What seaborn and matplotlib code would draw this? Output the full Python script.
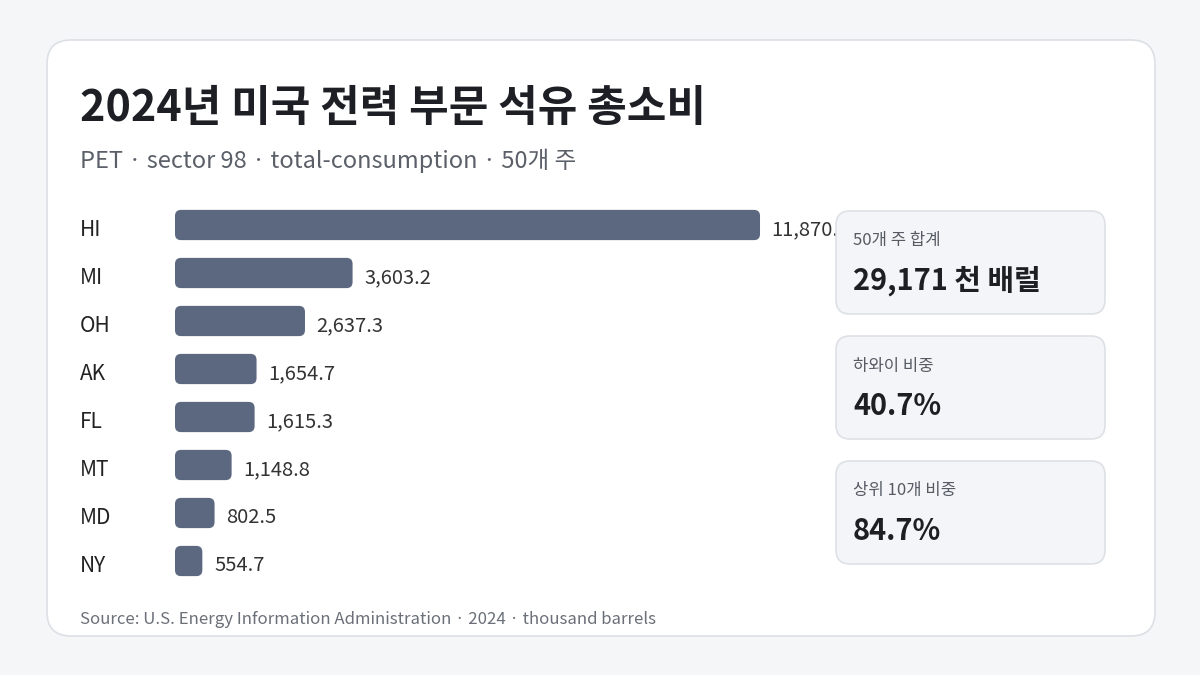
import matplotlib
matplotlib.use("Agg")
import matplotlib.pyplot as plt
import seaborn as sns
import pandas as pd
from matplotlib.patches import FancyBboxPatch

states = ["HI", "MI", "OH", "AK", "FL", "MT", "MD", "NY"]
values = [11870.4, 3603.2, 2637.3, 1654.7, 1615.3, 1148.8, 802.5, 554.7]
card_labels = ["50개 주 합계", "하와이 비중", "상위 10개 비중"]
card_values = ["29,171 천 배럴", "40.7%", "84.7%"]

sns.set_theme(style="white")
plt.rcParams["font.family"] = ["Noto Sans CJK KR", "DejaVu Sans"]

W, H = 1200, 675
fig = plt.figure(figsize=(12, 6.75), dpi=100)
fig.patch.set_facecolor("#f5f6f8")


def px_box(x0, y0, x1, y1, r, fc, ec, z=0):
    # box in pixel coordinates (y from top)
    p = FancyBboxPatch((x0 / W, 1 - y1 / H), (x1 - x0) / W, (y1 - y0) / H,
                       boxstyle=f"round,pad=0,rounding_size={r / W}",
                       mutation_aspect=W / H, transform=fig.transFigure,
                       facecolor=fc, edgecolor=ec, linewidth=1.2, zorder=z)
    fig.add_artist(p)
    return p


px_box(47, 40, 1155, 636, 24, "white", "#dcdfe4", z=0)

# bar axes
ax_l, ax_r, ax_t, ax_b = 175, 825, 201, 585
ax = fig.add_axes([ax_l / W, 1 - ax_b / H, (ax_r - ax_l) / W, (ax_b - ax_t) / H])
ax.set_facecolor("none")
df = pd.DataFrame({"state": states, "value": values})
sns.barplot(data=df, x="value", y="state", color="#5b6880", width=0.63,
            saturation=1, ax=ax)
xmax = 11870 * (ax_r - ax_l) / 585
ax.set_xlim(0, xmax)
ax.set_ylim(len(states) - 0.5, -0.5)

# round the bars
rx = 6 * xmax / (ax_r - ax_l)
ry = 6 * len(states) / (ax_b - ax_t)
for patch in list(ax.patches):
    x, y = patch.get_x(), patch.get_y()
    w, h = patch.get_width(), patch.get_height()
    rb = FancyBboxPatch((x, y), w, h, boxstyle=f"round,pad=0,rounding_size={rx}",
                        mutation_aspect=ry / rx, facecolor="#5b6880",
                        edgecolor="none", zorder=2)
    patch.remove()
    ax.add_patch(rb)

for i, v in enumerate(values):
    ax.text(v + xmax * 0.018, i + 0.1, f"{v:,.1f}", va="center", ha="left",
            fontsize=14.5, color="#333333", clip_on=False)

ax.set_xlabel("")
ax.set_ylabel("")
ax.set_xticks([])
ax.set_yticks([])
for s in ax.spines.values():
    s.set_visible(False)

for i, s in enumerate(states):
    fig.text(80 / W, 1 - (230 + 48 * i) / H, s, fontsize=15, color="#222222",
             va="center", ha="left")

# title block
fig.text(80 / W, 1 - 108 / H, "2024년 미국 전력 부문 석유 총소비", fontsize=31,
         fontweight="bold", color="#1d1f24", va="center", ha="left")
fig.text(80 / W, 1 - 161 / H, "PET · sector 98 · total-consumption · 50개 주",
         fontsize=17, color="#5a5f68", va="center", ha="left")

# stat cards
for i, (lab, val) in enumerate(zip(card_labels, card_values)):
    y0 = 211 + 125 * i
    px_box(836, y0, 1105, y0 + 103, 14, "#f4f5f8", "#dde0e5", z=3)
    fig.text(853 / W, 1 - (y0 + 30) / H, lab, fontsize=12, color="#555a63",
             va="center", ha="left", zorder=4)
    fig.text(853 / W, 1 - (y0 + 70) / H, val, fontsize=20.8, fontweight="bold",
             color="#1d1f24", va="center", ha="left", zorder=4)

fig.text(80 / W, 1 - 619 / H,
         "Source: U.S. Energy Information Administration · 2024 · thousand barrels",
         fontsize=12.1, color="#6a6f78", va="center", ha="left")

fig.savefig("out.png", dpi=100, facecolor=fig.get_facecolor())
